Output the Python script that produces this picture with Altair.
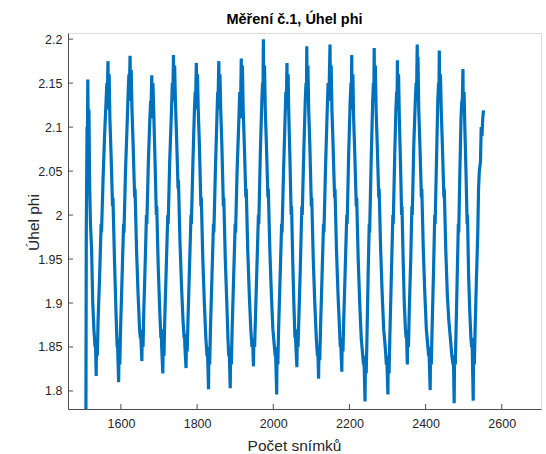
import altair as alt
import pandas as pd

# (frame, phi) readings, one line per half cycle
readings = [
    (1508, 1.76), (1509, 1.98), (1511, 2.10), (1512, 2.09), (1513, 2.154), (1514, 2.10), (1516, 2.12), (1518, 2.03), (1520, 1.99), (1523, 1.96), (1526, 1.90), (1529, 1.87), (1532, 1.85), (1533, 1.86), (1535, 1.817), (1536, 1.86), (1538, 1.84), (1540, 1.88),
    (1544, 1.93), (1548, 1.99), (1549, 1.98), (1553, 2.04), (1557, 2.09), (1561, 2.13), (1563, 2.15), (1564, 2.13), (1566, 2.175),
    (1567, 2.12), (1569, 2.16), (1571, 2.11), (1574, 2.07), (1578, 2.01), (1579, 2.02), (1583, 1.95), (1587, 1.89), (1590, 1.85), (1591, 1.86), (1592, 1.84), (1594, 1.810), (1595, 1.85), (1597, 1.83), (1599, 1.87),
    (1603, 1.93), (1607, 1.99), (1608, 1.98), (1612, 2.05), (1616, 2.10), (1619, 2.14), (1621, 2.16), (1622, 2.14), (1624, 2.181),
    (1625, 2.13), (1627, 2.165), (1629, 2.12), (1632, 2.08), (1636, 2.02), (1637, 2.03), (1641, 1.96), (1645, 1.91), (1649, 1.87), (1651, 1.86), (1652, 1.865), (1655, 1.834), (1656, 1.87), (1658, 1.85), (1660, 1.89),
    (1664, 1.95), (1667, 2.00), (1668, 1.99), (1672, 2.06), (1676, 2.11), (1678, 2.13), (1679, 2.12), (1681, 2.159),
    (1682, 2.11), (1684, 2.15), (1686, 2.12), (1689, 2.07), (1693, 2.00), (1694, 2.01), (1698, 1.94), (1702, 1.89), (1705, 1.86), (1706, 1.87), (1707, 1.85), (1710, 1.820), (1711, 1.86), (1713, 1.84), (1715, 1.88),
    (1719, 1.94), (1723, 2.00), (1724, 1.99), (1728, 2.06), (1732, 2.11), (1735, 2.15), (1736, 2.13), (1738, 2.182),
    (1739, 2.13), (1741, 2.17), (1743, 2.13), (1746, 2.09), (1750, 2.03), (1751, 2.04), (1755, 1.97), (1759, 1.92), (1763, 1.88), (1766, 1.86), (1767, 1.865), (1768, 1.85), (1771, 1.826), (1772, 1.86), (1774, 1.845), (1776, 1.88),
    (1780, 1.94), (1784, 2.00), (1785, 1.99), (1789, 2.06), (1793, 2.12), (1795, 2.14), (1796, 2.13), (1798, 2.173),
    (1799, 2.12), (1801, 2.16), (1803, 2.12), (1806, 2.08), (1810, 2.01), (1811, 2.02), (1815, 1.95), (1819, 1.90), (1823, 1.86), (1826, 1.84), (1827, 1.85), (1828, 1.835), (1830, 1.802), (1831, 1.85), (1833, 1.83), (1835, 1.87),
    (1839, 1.93), (1843, 1.99), (1844, 1.98), (1848, 2.05), (1852, 2.11), (1854, 2.14), (1855, 2.13), (1857, 2.175),
    (1858, 2.12), (1860, 2.16), (1862, 2.12), (1865, 2.08), (1869, 2.01), (1870, 2.02), (1874, 1.95), (1878, 1.90), (1881, 1.86), (1883, 1.84), (1884, 1.85), (1885, 1.835), (1887, 1.803), (1888, 1.85), (1890, 1.83), (1892, 1.87),
    (1896, 1.93), (1900, 1.99), (1901, 1.98), (1905, 2.05), (1909, 2.10), (1912, 2.14), (1914, 2.12), (1916, 2.178),
    (1917, 2.11), (1919, 2.17), (1921, 2.12), (1924, 2.08), (1928, 2.02), (1929, 2.03), (1933, 1.96), (1937, 1.91), (1941, 1.87), (1944, 1.85), (1945, 1.86), (1946, 1.855), (1948, 1.828), (1949, 1.86), (1951, 1.85), (1953, 1.88),
    (1957, 1.94), (1961, 2.00), (1962, 1.99), (1966, 2.07), (1970, 2.13), (1972, 2.15), (1973, 2.14), (1974, 2.200),
    (1975, 2.14), (1977, 2.17), (1979, 2.12), (1982, 2.08), (1986, 2.02), (1987, 2.03), (1991, 1.96), (1995, 1.91), (1999, 1.87), (2003, 1.85), (2005, 1.84), (2006, 1.845), (2009, 1.796), (2010, 1.85), (2012, 1.83), (2014, 1.87),
    (2018, 1.93), (2022, 1.99), (2023, 1.98), (2027, 2.05), (2031, 2.11), (2033, 2.14), (2034, 2.12), (2036, 2.173),
    (2037, 2.12), (2039, 2.16), (2041, 2.11), (2044, 2.06), (2047, 2.00), (2048, 2.01), (2051, 1.95), (2054, 1.90), (2057, 1.86), (2058, 1.87), (2059, 1.855), (2062, 1.827), (2063, 1.86), (2065, 1.85), (2067, 1.88),
    (2071, 1.94), (2075, 2.01), (2076, 2.00), (2080, 2.07), (2084, 2.13), (2086, 2.15), (2087, 2.13), (2088, 2.192),
    (2089, 2.13), (2091, 2.17), (2093, 2.12), (2096, 2.08), (2100, 2.01), (2101, 2.02), (2105, 1.95), (2109, 1.90), (2113, 1.86), (2116, 1.84), (2117, 1.85), (2119, 1.814), (2120, 1.85), (2122, 1.835), (2124, 1.87),
    (2128, 1.93), (2132, 1.99), (2133, 1.98), (2137, 2.05), (2141, 2.11), (2144, 2.15), (2146, 2.13), (2149, 2.194),
    (2150, 2.14), (2152, 2.17), (2154, 2.12), (2157, 2.08), (2161, 2.02), (2162, 2.03), (2166, 1.96), (2170, 1.91), (2174, 1.87), (2176, 1.85), (2177, 1.86), (2178, 1.845), (2180, 1.822), (2181, 1.86), (2183, 1.845), (2185, 1.88),
    (2189, 1.94), (2193, 2.00), (2194, 1.99), (2198, 2.07), (2202, 2.13), (2204, 2.15), (2205, 2.13), (2206, 2.182),
    (2207, 2.12), (2209, 2.16), (2211, 2.11), (2214, 2.07), (2218, 2.01), (2219, 2.02), (2223, 1.95), (2227, 1.90), (2231, 1.86), (2235, 1.84), (2237, 1.83), (2238, 1.84), (2241, 1.788), (2242, 1.84), (2244, 1.82), (2246, 1.86),
    (2249, 1.93), (2252, 1.99), (2253, 1.98), (2257, 2.06), (2261, 2.13), (2263, 2.15), (2264, 2.13), (2265, 2.190),
    (2266, 2.13), (2268, 2.17), (2270, 2.12), (2273, 2.08), (2277, 2.02), (2278, 2.03), (2282, 1.96), (2286, 1.91), (2290, 1.87), (2294, 1.85), (2297, 1.83), (2298, 1.84), (2301, 1.796), (2302, 1.84), (2304, 1.82), (2306, 1.86),
    (2310, 1.93), (2314, 2.00), (2315, 1.99), (2319, 2.07), (2322, 2.12), (2324, 2.14), (2325, 2.12), (2326, 2.176),
    (2327, 2.12), (2329, 2.16), (2331, 2.11), (2334, 2.06), (2337, 2.00), (2338, 2.01), (2341, 1.95), (2344, 1.90), (2347, 1.87), (2349, 1.86), (2350, 1.865), (2352, 1.830), (2353, 1.87), (2355, 1.85), (2357, 1.89),
    (2361, 1.95), (2364, 2.01), (2365, 2.00), (2369, 2.08), (2373, 2.13), (2375, 2.15), (2376, 2.13), (2378, 2.194),
    (2379, 2.15), (2380, 2.18), (2382, 2.12), (2385, 2.08), (2389, 2.02), (2390, 2.03), (2394, 1.96), (2398, 1.91), (2402, 1.87), (2406, 1.85), (2408, 1.84), (2409, 1.845), (2412, 1.801), (2413, 1.85), (2415, 1.83), (2417, 1.87),
    (2421, 1.94), (2424, 2.00), (2425, 1.99), (2429, 2.07), (2432, 2.13), (2434, 2.15), (2435, 2.13), (2436, 2.187),
    (2437, 2.13), (2439, 2.16), (2441, 2.12), (2444, 2.08), (2448, 2.02), (2449, 2.03), (2453, 1.96), (2457, 1.91), (2461, 1.88), (2465, 1.86), (2469, 1.84), (2472, 1.83), (2473, 1.84), (2475, 1.786), (2476, 1.84), (2478, 1.83), (2480, 1.87),
    (2483, 1.93), (2486, 1.99), (2487, 1.98), (2490, 2.05), (2493, 2.11), (2495, 2.13), (2496, 2.12), (2498, 2.166),
    (2499, 2.12), (2501, 2.14), (2503, 2.10), (2506, 2.05), (2509, 1.99), (2510, 2.00), (2513, 1.93), (2516, 1.89), (2519, 1.86), (2521, 1.85), (2522, 1.86), (2525, 1.789), (2526, 1.84), (2528, 1.83), (2530, 1.87),
    (2533, 1.92), (2537, 1.98), (2539, 2.03), (2541, 2.05), (2544, 2.06), (2546, 2.10), (2548, 2.09), (2550, 2.11), (2552, 2.119),
]
frame = [f for f, _ in readings]
phi = [p for _, p in readings]

x_ticks = [1600, 1800, 2000, 2200, 2400, 2600]
y_ticks = [1.8, 1.85, 1.9, 1.95, 2.0, 2.05, 2.1, 2.15, 2.2]

X_DOMAIN = [1461, 2703]
Y_DOMAIN = [1.7795, 2.207]
W, H = 473, 376
FONT = "Liberation Sans"
AXIS_GREY = "#4d4d4d"
TEXT = "#262626"

df = pd.DataFrame({"frame": frame, "phi": phi})
xt = pd.DataFrame({"frame": x_ticks})
yt = pd.DataFrame({"phi": y_ticks})

xscale = alt.Scale(domain=X_DOMAIN, nice=False, zero=False)
yscale = alt.Scale(domain=Y_DOMAIN, nice=False, zero=False)

x_axis = alt.Axis(values=x_ticks, format="d", title="Počet snímků",
                  grid=False, ticks=False, tickSize=0, labelPadding=8,
                  domain=True, domainColor=AXIS_GREY, domainWidth=1,
                  labelColor=TEXT, labelFontSize=12.5, labelFont=FONT,
                  titleFont=FONT, titleFontSize=15.5, titleFontWeight="normal",
                  titleColor=TEXT, titleX=226, titleY=41,
                  titleBaseline="alphabetic")
y_axis = alt.Axis(values=y_ticks, format="~g", title="Úhel phi",
                  grid=False, ticks=False, tickSize=0, labelPadding=6,
                  domain=True, domainColor=AXIS_GREY, domainWidth=1,
                  labelColor=TEXT, labelFontSize=12.5, labelFont=FONT,
                  titleFont=FONT, titleFontSize=15.5, titleFontWeight="normal",
                  titleColor=TEXT, titleX=-35, titleY=189,
                  titleAngle=-90, titleAlign="center", titleBaseline="middle")

line = alt.Chart(df).mark_line(color="#0072BD", strokeWidth=3.2, clip=True).encode(
    x=alt.X("frame:Q", scale=xscale, axis=x_axis),
    y=alt.Y("phi:Q", scale=yscale, axis=y_axis),
)

xtick_marks = alt.Chart(xt).mark_rule(color=AXIS_GREY, strokeWidth=1).encode(
    x=alt.X("frame:Q", scale=xscale, axis=x_axis),
    y=alt.value(H),
    y2=alt.value(H - 5),
)

ytick_marks = alt.Chart(yt).mark_rule(color=AXIS_GREY, strokeWidth=1).encode(
    y=alt.Y("phi:Q", scale=yscale, axis=y_axis),
    x=alt.value(0),
    x2=alt.value(5),
)

chart = alt.layer(line, xtick_marks, ytick_marks).properties(
    width=W,
    height=H,
    title=alt.TitleParams("Měření č.1, Úhel phi", font=FONT, fontSize=14.5,
                          fontWeight="bold", color="#000000", anchor="middle",
                          dx=-10, offset=6),
    padding={"left": 68, "top": 33, "right": 5, "bottom": 45},
    autosize=alt.AutoSizeParams(type="none"),
).configure_view(stroke=None).configure(background="white")

chart.save("out.html", embed_options={"renderer": "svg", "actions": False})
